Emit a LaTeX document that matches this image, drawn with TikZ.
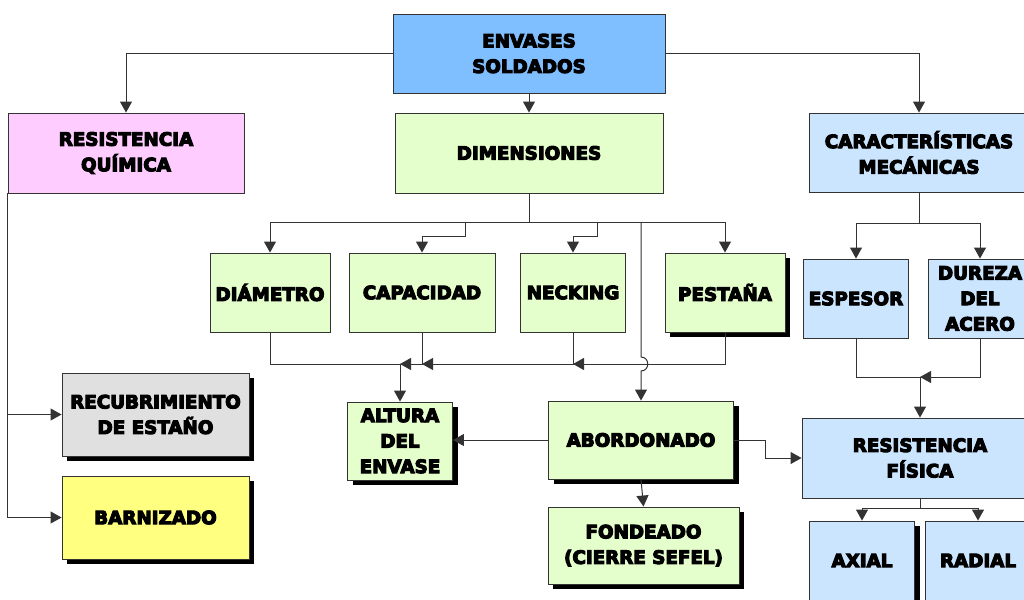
\documentclass[tikz,border=0pt]{standalone}
\usepackage{fontspec}
\newfontfamily\blk[FakeBold=6]{DejaVu Sans Bold}
\usetikzlibrary{arrows.meta,shadows}
\definecolor{cEnv}{RGB}{128,191,255}
\definecolor{cPink}{RGB}{255,204,255}
\definecolor{cGreen}{RGB}{229,255,204}
\definecolor{cBlue}{RGB}{204,229,255}
\definecolor{cGray}{RGB}{224,224,224}
\definecolor{cYel}{RGB}{255,255,128}
\tikzset{
  box/.style={draw=black!80, line width=0.9pt, rectangle, inner sep=0pt, align=center,
    font=\blk\fontsize{18.3}{25.5}\selectfont},
  shad/.style={drop shadow={shadow xshift=5pt, shadow yshift=-5pt, fill=black, opacity=1}},
  conn/.style={draw=black!80, line width=1pt},
  arr/.style={conn, -{Triangle[length=11pt,width=12pt]}},
}
\begin{document}
\begin{tikzpicture}[x=1pt,y=-1pt]
\useasboundingbox (0,0) rectangle (1024,599);
\clip (0,0) rectangle (1024,599);
% nodes
\node[box, fill=cEnv, minimum width=272, minimum height=79] (env) at (529,53.5) {ENVASES\\SOLDADOS};
\node[box, fill=cPink, minimum width=236, minimum height=80] (rq) at (126,153) {RESISTENCIA\\QUÍMICA};
\node[box, fill=cGreen, minimum width=268, minimum height=80] (dim) at (529,153) {DIMENSIONES};
\node[box, fill=cBlue, minimum width=220, minimum height=79] (car) at (919,152.5) {CARACTERÍSTICAS\\MECÁNICAS};
\node[box, fill=cGreen, minimum width=120, minimum height=79] (dia) at (270,292.5) {DIÁMETRO};
\node[box, fill=cGreen, minimum width=146, minimum height=79] (cap) at (422,292.5) {CAPACIDAD};
\node[box, fill=cGreen, minimum width=105, minimum height=79] (nec) at (573,292.5) {NECKING};
\node[box, fill=cGreen, shad, minimum width=120, minimum height=79] (pes) at (725,292.5) {PESTAÑA};
\node[box, fill=cBlue, minimum width=105, minimum height=79] (esp) at (856,298.5) {ESPESOR};
\node[box, fill=cBlue, minimum width=104, minimum height=79] (dur) at (980,298.5) {DUREZA\\DEL\\ACERO};
\node[box, fill=cGray, shad, minimum width=187, minimum height=83] (rec) at (155.5,414.5) {RECUBRIMIENTO\\DE ESTAÑO};
\node[box, fill=cYel, shad, minimum width=187, minimum height=83] (bar) at (155.5,517.5) {BARNIZADO};
\node[box, fill=cGreen, shad, minimum width=105, minimum height=78] (alt) at (400,441) {ALTURA\\DEL\\ENVASE};
\node[box, fill=cGreen, shad, minimum width=185, minimum height=78] (abo) at (641,440) {ABORDONADO};
\node[box, fill=cGreen, shad, minimum width=191, minimum height=77] (fon) at (643.5,545.5) {FONDEADO\\(CIERRE SEFEL)};
\node[box, fill=cBlue, minimum width=236, minimum height=80] (rf) at (920,458) {RESISTENCIA\\FÍSICA};
\node[box, fill=cBlue, shad, minimum width=105, minimum height=79] (axi) at (862,560.5) {AXIAL};
\node[box, fill=cBlue, minimum width=106, minimum height=79] (rad) at (978,560.5) {RADIAL};
% coordinates
\coordinate (busL) at (270,222);
\coordinate (busR) at (725,222);
\coordinate (capK) at (465,236);
\coordinate (necK) at (597,236);
\coordinate (j1) at (400,364);
\coordinate (cbus) at (919,223);
\coordinate (j2) at (920,377);
\coordinate (k3) at (765,440);
\coordinate (rbus) at (920,508);
% connectors top
\draw[arr] (env.west) -| (rq.north);
\draw[arr] (env.east) -| (car.north);
\draw[arr] (env.south) -- (dim.north);
% dimensiones bus
\draw[conn] (dim.south) -- (dim.south |- busL);
\draw[conn] (busL) -- (busR);
\draw[arr] (busL) -- (dia.north);
\draw[arr] (busR) -- (pes.north);
\draw[arr] (capK |- busL) -- (capK) -| (cap.north);
\draw[arr] (necK |- busL) -- (necK) -| (nec.north);
% lower joins
\draw[conn] (dia.south) |- (j1);
\draw[arr] (j1) -- (alt.north);
\draw[arr] (cap.south) |- (j1);
\draw[arr] (nec.south) |- (cap.south |- j1);
\draw[arr] (pes.south) |- (nec.south |- j1);
% vertical with hop to abordonado
\draw[arr] (abo.north |- busL) -- (641,357) .. controls (650,357) and (650,371) .. (641,371) -- (abo.north);
% abordonado connections
\draw[arr] (abo.west) -- (abo.west -| alt.east);
\draw[arr] (abo.south) -- (fon.north);
\draw[arr] (abo.east) -- (k3) |- (rf.west);
% right side
\draw[conn] (car.south) -- (cbus);
\draw[arr] (cbus) -| (esp.north);
\draw[arr] (cbus) -| (dur.north);
\draw[conn] (esp.south) |- (j2);
\draw[arr] (dur.south) |- (j2);
\draw[arr] (j2) -- (rf.north);
\draw[conn] (rf.south) -- (rbus);
\draw[arr] (rbus) -| (axi.north);
\draw[arr] (rbus) -| (rad.north);
% left side
\draw[arr] (rq.south west) |- (rec.west);
\draw[arr] (rq.south west) |- (bar.west);
\end{tikzpicture}
\end{document}
